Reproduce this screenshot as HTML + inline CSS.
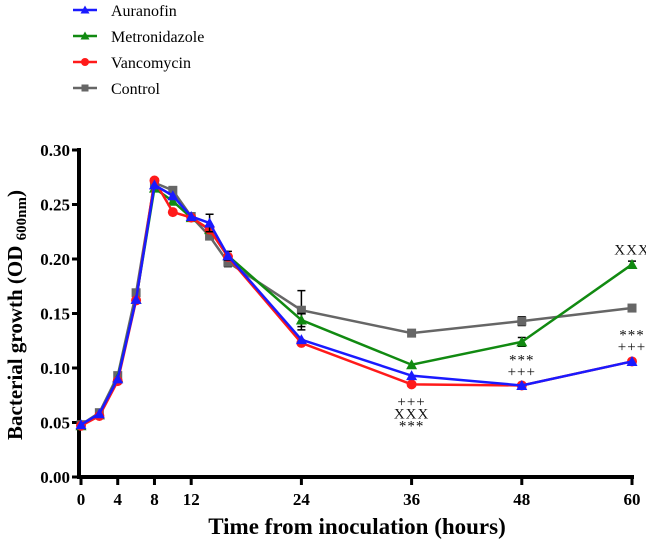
<!DOCTYPE html>
<html><head><meta charset="utf-8"><style>
body{margin:0;background:#fff}
svg text{font-family:"Liberation Serif",serif}
</style></head><body>
<svg id="c" width="646" height="547" xmlns="http://www.w3.org/2000/svg"></svg>
<script>
const times=[0,2,4,6,8,10,12,14,16,24,36,48,60];
const auranofin=[0.048,0.058,0.090,0.163,0.268,0.258,0.239,0.233,0.203,0.126,0.093,0.084,0.106];
const metronidazole=[0.047,0.057,0.091,0.163,0.265,0.253,0.238,0.227,0.203,0.144,0.103,0.124,0.195];
const vancomycin=[0.047,0.056,0.088,0.162,0.272,0.243,0.238,0.227,0.202,0.123,0.085,0.084,0.106];
const control=[0.048,0.059,0.093,0.169,0.270,0.263,0.239,0.221,0.197,0.153,0.132,0.143,0.155];
const controlErr=[0,0,0,0,0,0,0,0,0.004,0.018,0,0.004,0.003];
const auranofinErr=[0,0,0,0,0,0,0,0.008,0.004,0,0,0,0];
const metronidazoleErr=[0,0,0,0,0,0,0,0,0,0.006,0,0.004,0.003];
const xTicks=[0,4,8,12,24,36,48,60];
const yTicks=[0,0.05,0.10,0.15,0.20,0.25,0.30];
const annotations=[{t:36,v:0.085,lines:["+++","XXX","***"],dy:22},{t:48,v:0.084,lines:["***","+++"],dy:-21},{t:60,v:0.106,lines:["***","+++"],dy:-22},{t:60,v:0.195,lines:["XXX"],dy:-10}];
const X=t=>81+t*551/60, Y=v=>477-v*1090;
const svg=document.getElementById('c');const NS='http://www.w3.org/2000/svg';
function mk(tag,a,parent){const e=document.createElementNS(NS,tag);for(const k in a)e.setAttribute(k,a[k]);(parent||svg).appendChild(e);return e;}
let ax=mk('g',{});


mk('line',{x1:79,y1:148,x2:79,y2:479,stroke:'#000','stroke-width':4},ax);
mk('line',{x1:77,y1:477,x2:634,y2:477,stroke:'#000','stroke-width':4},ax);
yTicks.forEach(v=>{mk('line',{x1:72,y1:Y(v),x2:79,y2:Y(v),stroke:'#000','stroke-width':3},ax);
 const t=mk('text',{x:70,y:Y(v)+6,'text-anchor':'end','font-size':17,'font-weight':'bold'},ax);t.textContent=v.toFixed(2);
 
 });
xTicks.forEach(v=>{mk('line',{x1:X(v),y1:477,x2:X(v),y2:485,stroke:'#000','stroke-width':3},ax);
 const t=mk('text',{x:X(v),y:505,'text-anchor':'middle','font-size':17,'font-weight':'bold'},ax);t.textContent=v;
 
 });
let xt=mk('text',{x:357,y:534,'text-anchor':'middle','font-size':23,'font-weight':'bold'});xt.textContent='Time from inoculation (hours)';


let yt=mk('text',{x:0,y:0,transform:'translate(22,315) rotate(-90)','text-anchor':'middle','font-size':21,'font-weight':'bold'});
yt.innerHTML='Bacterial growth (OD <tspan font-size="15" dy="4">600nm</tspan><tspan dy="-4">)</tspan>';


const series=[
 {name:'control',data:control,err:controlErr,color:'#666',m:'sq'},
 {name:'metronidazole',data:metronidazole,err:metronidazoleErr,color:'#118a11',m:'tri'},
 {name:'vancomycin',data:vancomycin,err:null,color:'#ff1a1a',m:'circ'},
 {name:'auranofin',data:auranofin,err:auranofinErr,color:'#1a1aff',m:'tri'}];
function marker(g,m,x,y,c,s){if(m==='sq')mk('rect',{x:x-s,y:y-s,width:2*s,height:2*s,fill:c},g);
 else if(m==='circ')mk('circle',{cx:x,cy:y,r:s+0.5,fill:c},g);
 else mk('polygon',{points:`${x},${y-s-1} ${x-s-1},${y+s} ${x+s+1},${y+s}`,fill:c},g);}
series.forEach(s=>{const g=mk('g',{});
 
 
 if(s.err)s.data.forEach((v,i)=>{const e=s.err[i];if(!e)return;const x=X(times[i]);
  mk('path',{d:`M${x},${Y(v+e)}V${Y(v-e)}M${x-4},${Y(v+e)}h8M${x-4},${Y(v-e)}h8`,stroke:'#000','stroke-width':1.5,fill:'none'},g);});
 mk('polyline',{points:s.data.map((v,i)=>X(times[i])+','+Y(v)).join(' '),fill:'none',stroke:s.color,'stroke-width':2.5},g);
 s.data.forEach((v,i)=>marker(g,s.m,X(times[i]),Y(v),s.color,4.5));});
annotations.forEach(a=>{a.lines.forEach((l,j)=>{const t=mk('text',{x:X(a.t),y:Y(a.v)+a.dy+j*12,'text-anchor':'middle','font-size':15,'letter-spacing':1,fill:'#111'});t.textContent=l;
 
 });});
const legend=[['Auranofin','#1a1aff','tri'],['Metronidazole','#118a11','tri'],['Vancomycin','#ff1a1a','circ'],['Control','#666','sq']];
legend.forEach((l,i)=>{const g=mk('g',{});
 
 
 const y=10+i*26;mk('line',{x1:73,y1:y,x2:97,y2:y,stroke:l[1],'stroke-width':2.5},g);marker(g,l[2],85,y,l[1],3.5);
 const t=mk('text',{x:111,y:y+6,'font-size':16},g);t.textContent=l[0];});
</script>
</body></html>
